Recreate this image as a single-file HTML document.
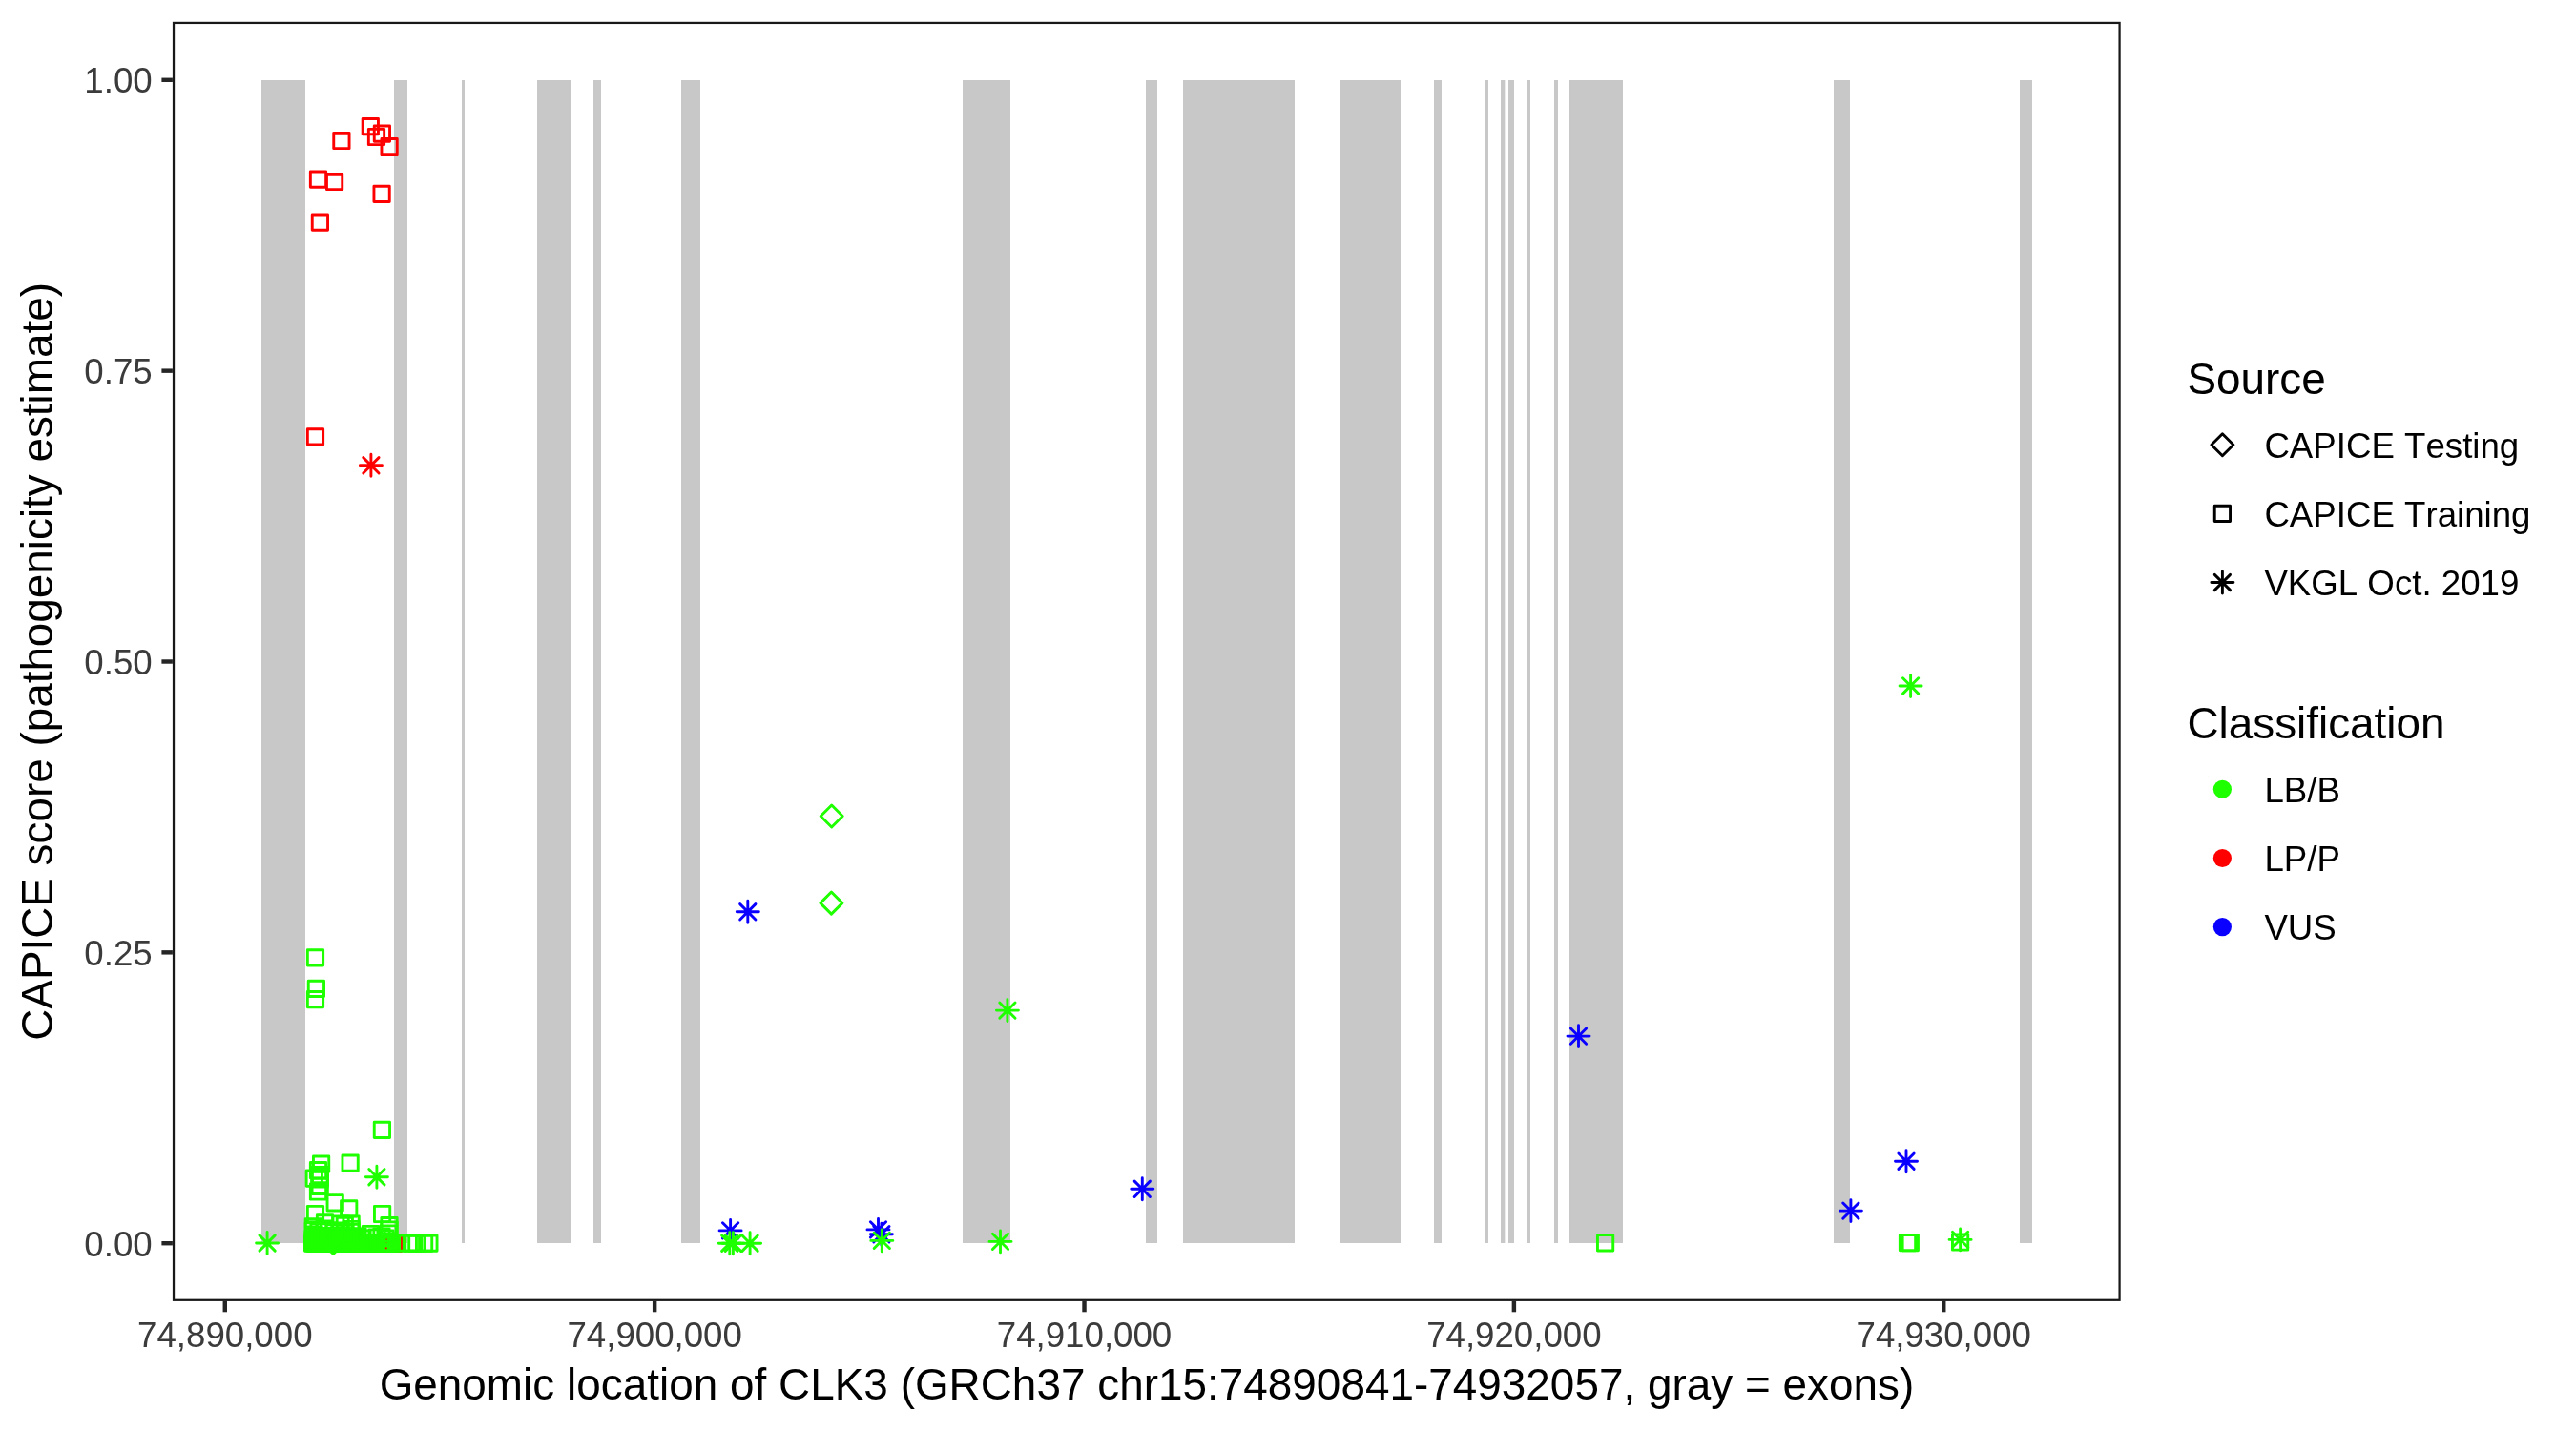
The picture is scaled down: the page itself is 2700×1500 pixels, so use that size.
<!DOCTYPE html>
<html><head><meta charset="utf-8"><title>CAPICE CLK3</title>
<style>
html,body{margin:0;padding:0;background:#fff;}
body{width:2700px;height:1500px;overflow:hidden;}
svg{display:block;will-change:transform;}
text{font-family:"Liberation Sans",sans-serif;font-kerning:none;}
</style></head><body>
<svg width="2700" height="1500" viewBox="0 0 2700 1500">
<rect width="2700" height="1500" fill="#fff"/>
<g fill="#c8c8c8" shape-rendering="crispEdges">
<rect x="274.00" y="84.00" width="46.00" height="1218.80"/>
<rect x="413.10" y="84.00" width="13.80" height="1218.80"/>
<rect x="484.00" y="84.00" width="2.90" height="1218.80"/>
<rect x="563.10" y="84.00" width="35.80" height="1218.80"/>
<rect x="622.10" y="84.00" width="7.80" height="1218.80"/>
<rect x="714.10" y="84.00" width="19.80" height="1218.80"/>
<rect x="1009.00" y="84.00" width="49.90" height="1218.80"/>
<rect x="1201.10" y="84.00" width="11.90" height="1218.80"/>
<rect x="1240.00" y="84.00" width="116.90" height="1218.80"/>
<rect x="1404.90" y="84.00" width="63.00" height="1218.80"/>
<rect x="1503.00" y="84.00" width="7.90" height="1218.80"/>
<rect x="1557.00" y="84.00" width="3.00" height="1218.80"/>
<rect x="1573.00" y="84.00" width="4.10" height="1218.80"/>
<rect x="1581.00" y="84.00" width="6.00" height="1218.80"/>
<rect x="1601.00" y="84.00" width="2.90" height="1218.80"/>
<rect x="1629.00" y="84.00" width="4.00" height="1218.80"/>
<rect x="1645.00" y="84.00" width="56.00" height="1218.80"/>
<rect x="1921.90" y="84.00" width="17.10" height="1218.80"/>
<rect x="2117.00" y="84.00" width="12.90" height="1218.80"/>
<rect x="1577" y="84.0" width="1" height="1218.80" fill="#ebebeb"/>
</g>
<g fill="none" stroke-width="2.9" stroke-linecap="round" stroke-linejoin="round">
<rect x="349.75" y="139.35" width="16.30" height="16.30" stroke="#ff0000"/>
<rect x="380.15" y="124.45" width="16.30" height="16.30" stroke="#ff0000"/>
<rect x="392.25" y="131.95" width="16.30" height="16.30" stroke="#ff0000"/>
<rect x="386.35" y="135.35" width="16.30" height="16.30" stroke="#ff0000"/>
<rect x="399.95" y="145.45" width="16.30" height="16.30" stroke="#ff0000"/>
<rect x="325.35" y="179.95" width="16.30" height="16.30" stroke="#ff0000"/>
<rect x="342.45" y="182.35" width="16.30" height="16.30" stroke="#ff0000"/>
<rect x="391.95" y="195.25" width="16.30" height="16.30" stroke="#ff0000"/>
<rect x="327.25" y="224.95" width="16.30" height="16.30" stroke="#ff0000"/>
<rect x="322.35" y="449.75" width="16.30" height="16.30" stroke="#ff0000"/>
<rect x="404.55" y="1295.20" width="16.30" height="16.30" stroke="#ff0000"/>
<rect x="328.25" y="1294.95" width="16.30" height="16.30" stroke="#ff0000"/>
<path d="M380.75 479.65L397.05 495.95M380.75 495.95L397.05 479.65M377.38 487.80L400.42 487.80M388.90 476.28L388.90 499.32" stroke="#ff0000"/>
<rect x="322.35" y="995.75" width="16.30" height="16.30" stroke="#1eff00"/>
<rect x="323.25" y="1028.25" width="16.30" height="16.30" stroke="#1eff00"/>
<rect x="322.35" y="1039.45" width="16.30" height="16.30" stroke="#1eff00"/>
<rect x="392.25" y="1176.25" width="16.30" height="16.30" stroke="#1eff00"/>
<rect x="358.95" y="1210.95" width="16.30" height="16.30" stroke="#1eff00"/>
<rect x="328.45" y="1212.05" width="16.30" height="16.30" stroke="#1eff00"/>
<rect x="325.35" y="1218.55" width="16.30" height="16.30" stroke="#1eff00"/>
<rect x="321.15" y="1227.05" width="16.30" height="16.30" stroke="#1eff00"/>
<rect x="327.05" y="1223.45" width="16.30" height="16.30" stroke="#1eff00"/>
<rect x="327.05" y="1225.85" width="16.30" height="16.30" stroke="#1eff00"/>
<rect x="327.05" y="1227.85" width="16.30" height="16.30" stroke="#1eff00"/>
<rect x="327.05" y="1235.25" width="16.30" height="16.30" stroke="#1eff00"/>
<rect x="325.35" y="1240.85" width="16.30" height="16.30" stroke="#1eff00"/>
<rect x="343.05" y="1252.65" width="16.30" height="16.30" stroke="#1eff00"/>
<rect x="357.55" y="1258.75" width="16.30" height="16.30" stroke="#1eff00"/>
<rect x="322.35" y="1264.35" width="16.30" height="16.30" stroke="#1eff00"/>
<rect x="392.45" y="1264.35" width="16.30" height="16.30" stroke="#1eff00"/>
<rect x="399.85" y="1276.55" width="16.30" height="16.30" stroke="#1eff00"/>
<rect x="332.35" y="1273.75" width="16.30" height="16.30" stroke="#1eff00"/>
<rect x="348.95" y="1274.85" width="16.30" height="16.30" stroke="#1eff00"/>
<rect x="353.15" y="1276.35" width="16.30" height="16.30" stroke="#1eff00"/>
<rect x="359.95" y="1274.85" width="16.30" height="16.30" stroke="#1eff00"/>
<rect x="359.95" y="1280.35" width="16.30" height="16.30" stroke="#1eff00"/>
<rect x="359.95" y="1283.35" width="16.30" height="16.30" stroke="#1eff00"/>
<rect x="380.25" y="1285.35" width="16.30" height="16.30" stroke="#1eff00"/>
<rect x="320.15" y="1277.65" width="16.30" height="16.30" stroke="#1eff00"/>
<rect x="320.15" y="1281.85" width="16.30" height="16.30" stroke="#1eff00"/>
<rect x="320.85" y="1285.85" width="16.30" height="16.30" stroke="#1eff00"/>
<rect x="399.85" y="1280.85" width="16.30" height="16.30" stroke="#1eff00"/>
<rect x="398.85" y="1284.85" width="16.30" height="16.30" stroke="#1eff00"/>
<rect x="336.85" y="1281.85" width="16.30" height="16.30" stroke="#1eff00"/>
<rect x="341.85" y="1283.85" width="16.30" height="16.30" stroke="#1eff00"/>
<rect x="331.85" y="1279.85" width="16.30" height="16.30" stroke="#1eff00"/>
<rect x="325.85" y="1282.85" width="16.30" height="16.30" stroke="#1eff00"/>
<rect x="347.85" y="1281.85" width="16.30" height="16.30" stroke="#1eff00"/>
<rect x="353.85" y="1284.35" width="16.30" height="16.30" stroke="#1eff00"/>
<rect x="366.85" y="1287.85" width="16.30" height="16.30" stroke="#1eff00"/>
<rect x="371.85" y="1289.85" width="16.30" height="16.30" stroke="#1eff00"/>
<rect x="386.85" y="1288.85" width="16.30" height="16.30" stroke="#1eff00"/>
<rect x="391.85" y="1287.85" width="16.30" height="16.30" stroke="#1eff00"/>
<rect x="395.85" y="1289.85" width="16.30" height="16.30" stroke="#1eff00"/>
<rect x="319.45" y="1294.95" width="16.30" height="16.30" stroke="#1eff00"/>
<rect x="320.90" y="1294.95" width="16.30" height="16.30" stroke="#1eff00"/>
<rect x="322.35" y="1294.95" width="16.30" height="16.30" stroke="#1eff00"/>
<rect x="323.80" y="1294.95" width="16.30" height="16.30" stroke="#1eff00"/>
<rect x="325.25" y="1294.95" width="16.30" height="16.30" stroke="#1eff00"/>
<rect x="326.70" y="1294.95" width="16.30" height="16.30" stroke="#1eff00"/>
<rect x="328.15" y="1294.95" width="16.30" height="16.30" stroke="#1eff00"/>
<rect x="329.60" y="1294.95" width="16.30" height="16.30" stroke="#1eff00"/>
<rect x="331.05" y="1294.95" width="16.30" height="16.30" stroke="#1eff00"/>
<rect x="332.50" y="1294.95" width="16.30" height="16.30" stroke="#1eff00"/>
<rect x="333.95" y="1294.95" width="16.30" height="16.30" stroke="#1eff00"/>
<rect x="335.40" y="1294.95" width="16.30" height="16.30" stroke="#1eff00"/>
<rect x="336.85" y="1294.95" width="16.30" height="16.30" stroke="#1eff00"/>
<rect x="338.30" y="1294.95" width="16.30" height="16.30" stroke="#1eff00"/>
<rect x="339.75" y="1294.95" width="16.30" height="16.30" stroke="#1eff00"/>
<rect x="341.20" y="1294.95" width="16.30" height="16.30" stroke="#1eff00"/>
<rect x="342.65" y="1294.95" width="16.30" height="16.30" stroke="#1eff00"/>
<rect x="344.10" y="1294.95" width="16.30" height="16.30" stroke="#1eff00"/>
<rect x="345.55" y="1294.95" width="16.30" height="16.30" stroke="#1eff00"/>
<rect x="347.00" y="1294.95" width="16.30" height="16.30" stroke="#1eff00"/>
<rect x="348.45" y="1294.95" width="16.30" height="16.30" stroke="#1eff00"/>
<rect x="349.90" y="1294.95" width="16.30" height="16.30" stroke="#1eff00"/>
<rect x="351.35" y="1294.95" width="16.30" height="16.30" stroke="#1eff00"/>
<rect x="352.80" y="1294.95" width="16.30" height="16.30" stroke="#1eff00"/>
<rect x="354.25" y="1294.95" width="16.30" height="16.30" stroke="#1eff00"/>
<rect x="355.70" y="1294.95" width="16.30" height="16.30" stroke="#1eff00"/>
<rect x="357.15" y="1294.95" width="16.30" height="16.30" stroke="#1eff00"/>
<rect x="358.60" y="1294.95" width="16.30" height="16.30" stroke="#1eff00"/>
<rect x="360.05" y="1294.95" width="16.30" height="16.30" stroke="#1eff00"/>
<rect x="361.50" y="1294.95" width="16.30" height="16.30" stroke="#1eff00"/>
<rect x="362.95" y="1294.95" width="16.30" height="16.30" stroke="#1eff00"/>
<rect x="364.40" y="1294.95" width="16.30" height="16.30" stroke="#1eff00"/>
<rect x="365.85" y="1294.95" width="16.30" height="16.30" stroke="#1eff00"/>
<rect x="367.30" y="1294.95" width="16.30" height="16.30" stroke="#1eff00"/>
<rect x="368.75" y="1294.95" width="16.30" height="16.30" stroke="#1eff00"/>
<rect x="370.20" y="1294.95" width="16.30" height="16.30" stroke="#1eff00"/>
<rect x="371.65" y="1294.95" width="16.30" height="16.30" stroke="#1eff00"/>
<rect x="373.10" y="1294.95" width="16.30" height="16.30" stroke="#1eff00"/>
<rect x="377.85" y="1294.95" width="16.30" height="16.30" stroke="#1eff00"/>
<rect x="380.35" y="1294.95" width="16.30" height="16.30" stroke="#1eff00"/>
<rect x="382.85" y="1294.95" width="16.30" height="16.30" stroke="#1eff00"/>
<rect x="385.15" y="1294.95" width="16.30" height="16.30" stroke="#1eff00"/>
<rect x="390.75" y="1294.95" width="16.30" height="16.30" stroke="#1eff00"/>
<rect x="393.20" y="1294.95" width="16.30" height="16.30" stroke="#1eff00"/>
<rect x="395.70" y="1294.95" width="16.30" height="16.30" stroke="#1eff00"/>
<rect x="398.20" y="1294.95" width="16.30" height="16.30" stroke="#1eff00"/>
<rect x="400.35" y="1294.95" width="16.30" height="16.30" stroke="#1eff00"/>
<rect x="402.35" y="1294.95" width="16.30" height="16.30" stroke="#1eff00"/>
<rect x="319.85" y="1290.85" width="16.30" height="16.30" stroke="#1eff00"/>
<rect x="322.15" y="1290.85" width="16.30" height="16.30" stroke="#1eff00"/>
<rect x="324.45" y="1290.85" width="16.30" height="16.30" stroke="#1eff00"/>
<rect x="326.75" y="1290.85" width="16.30" height="16.30" stroke="#1eff00"/>
<rect x="329.05" y="1290.85" width="16.30" height="16.30" stroke="#1eff00"/>
<rect x="331.35" y="1290.85" width="16.30" height="16.30" stroke="#1eff00"/>
<rect x="333.65" y="1290.85" width="16.30" height="16.30" stroke="#1eff00"/>
<rect x="335.95" y="1290.85" width="16.30" height="16.30" stroke="#1eff00"/>
<rect x="338.25" y="1290.85" width="16.30" height="16.30" stroke="#1eff00"/>
<rect x="340.55" y="1290.85" width="16.30" height="16.30" stroke="#1eff00"/>
<rect x="342.85" y="1290.85" width="16.30" height="16.30" stroke="#1eff00"/>
<rect x="345.15" y="1290.85" width="16.30" height="16.30" stroke="#1eff00"/>
<rect x="347.45" y="1290.85" width="16.30" height="16.30" stroke="#1eff00"/>
<rect x="349.75" y="1290.85" width="16.30" height="16.30" stroke="#1eff00"/>
<rect x="352.05" y="1290.85" width="16.30" height="16.30" stroke="#1eff00"/>
<rect x="354.35" y="1290.85" width="16.30" height="16.30" stroke="#1eff00"/>
<rect x="356.65" y="1290.85" width="16.30" height="16.30" stroke="#1eff00"/>
<rect x="358.95" y="1290.85" width="16.30" height="16.30" stroke="#1eff00"/>
<rect x="361.25" y="1290.85" width="16.30" height="16.30" stroke="#1eff00"/>
<rect x="363.55" y="1290.85" width="16.30" height="16.30" stroke="#1eff00"/>
<rect x="320.85" y="1287.85" width="16.30" height="16.30" stroke="#1eff00"/>
<rect x="323.95" y="1287.85" width="16.30" height="16.30" stroke="#1eff00"/>
<rect x="327.05" y="1287.85" width="16.30" height="16.30" stroke="#1eff00"/>
<rect x="330.15" y="1287.85" width="16.30" height="16.30" stroke="#1eff00"/>
<rect x="333.25" y="1287.85" width="16.30" height="16.30" stroke="#1eff00"/>
<rect x="336.35" y="1287.85" width="16.30" height="16.30" stroke="#1eff00"/>
<rect x="339.45" y="1287.85" width="16.30" height="16.30" stroke="#1eff00"/>
<rect x="342.55" y="1287.85" width="16.30" height="16.30" stroke="#1eff00"/>
<rect x="345.65" y="1287.85" width="16.30" height="16.30" stroke="#1eff00"/>
<rect x="348.75" y="1287.85" width="16.30" height="16.30" stroke="#1eff00"/>
<rect x="351.85" y="1287.85" width="16.30" height="16.30" stroke="#1eff00"/>
<rect x="354.95" y="1287.85" width="16.30" height="16.30" stroke="#1eff00"/>
<rect x="358.05" y="1287.85" width="16.30" height="16.30" stroke="#1eff00"/>
<rect x="408.55" y="1294.95" width="16.30" height="16.30" stroke="#1eff00"/>
<rect x="423.25" y="1294.95" width="16.30" height="16.30" stroke="#1eff00"/>
<rect x="424.05" y="1294.95" width="16.30" height="16.30" stroke="#1eff00"/>
<rect x="428.70" y="1294.95" width="16.30" height="16.30" stroke="#1eff00"/>
<rect x="436.45" y="1294.95" width="16.30" height="16.30" stroke="#1eff00"/>
<rect x="441.75" y="1294.95" width="16.30" height="16.30" stroke="#1eff00"/>
<path d="M337.78 1302.90L349.30 1291.38L360.82 1302.90L349.30 1314.42Z" stroke="#1eff00"/>
<path d="M386.75 1225.55L403.05 1241.85M386.75 1241.85L403.05 1225.55M383.38 1233.70L406.42 1233.70M394.90 1222.18L394.90 1245.22" stroke="#1eff00"/>
<path d="M271.95 1294.85L288.25 1311.15M271.95 1311.15L288.25 1294.85M268.58 1303.00L291.62 1303.00M280.10 1291.48L280.10 1314.52" stroke="#1eff00"/>
<path d="M860.18 855.50L871.70 843.98L883.22 855.50L871.70 867.02Z" stroke="#1eff00"/>
<path d="M859.88 946.60L871.40 935.08L882.92 946.60L871.40 958.12Z" stroke="#1eff00"/>
<path d="M775.65 947.65L791.95 963.95M775.65 963.95L791.95 947.65M772.28 955.80L795.32 955.80M783.80 944.28L783.80 967.32" stroke="#0a00ff"/>
<path d="M757.45 1281.75L773.75 1298.05M757.45 1298.05L773.75 1281.75M754.08 1289.90L777.12 1289.90M765.60 1278.38L765.60 1301.42" stroke="#0a00ff"/>
<path d="M912.35 1280.75L928.65 1297.05M912.35 1297.05L928.65 1280.75M908.98 1288.90L932.02 1288.90M920.50 1277.38L920.50 1300.42" stroke="#0a00ff"/>
<path d="M915.75 1285.55L932.05 1301.85M915.75 1301.85L932.05 1285.55M912.38 1293.70L935.42 1293.70M923.90 1282.18L923.90 1305.22" stroke="#0a00ff"/>
<path d="M756.65 1295.05L772.95 1311.35M756.65 1311.35L772.95 1295.05M753.28 1303.20L776.32 1303.20M764.80 1291.68L764.80 1314.72" stroke="#1eff00"/>
<path d="M760.25 1295.05L776.55 1311.35M760.25 1311.35L776.55 1295.05M756.88 1303.20L779.92 1303.20M768.40 1291.68L768.40 1314.72" stroke="#1eff00"/>
<path d="M777.95 1295.05L794.25 1311.35M777.95 1311.35L794.25 1295.05M774.58 1303.20L797.62 1303.20M786.10 1291.68L786.10 1314.72" stroke="#1eff00"/>
<path d="M916.15 1292.25L932.45 1308.55M916.15 1308.55L932.45 1292.25M912.78 1300.40L935.82 1300.40M924.30 1288.88L924.30 1311.92" stroke="#1eff00"/>
<path d="M1047.75 1050.95L1064.05 1067.25M1047.75 1067.25L1064.05 1050.95M1044.38 1059.10L1067.42 1059.10M1055.90 1047.58L1055.90 1070.62" stroke="#1eff00"/>
<path d="M1040.35 1293.25L1056.65 1309.55M1040.35 1309.55L1056.65 1293.25M1036.98 1301.40L1060.02 1301.40M1048.50 1289.88L1048.50 1312.92" stroke="#1eff00"/>
<path d="M1189.15 1238.15L1205.45 1254.45M1189.15 1254.45L1205.45 1238.15M1185.78 1246.30L1208.82 1246.30M1197.30 1234.78L1197.30 1257.82" stroke="#0a00ff"/>
<path d="M1646.35 1077.95L1662.65 1094.25M1646.35 1094.25L1662.65 1077.95M1642.98 1086.10L1666.02 1086.10M1654.50 1074.58L1654.50 1097.62" stroke="#0a00ff"/>
<rect x="1674.45" y="1294.65" width="16.30" height="16.30" stroke="#1eff00"/>
<path d="M1989.85 1209.05L2006.15 1225.35M1989.85 1225.35L2006.15 1209.05M1986.48 1217.20L2009.52 1217.20M1998.00 1205.68L1998.00 1228.72" stroke="#0a00ff"/>
<path d="M1931.75 1260.95L1948.05 1277.25M1931.75 1277.25L1948.05 1260.95M1928.38 1269.10L1951.42 1269.10M1939.90 1257.58L1939.90 1280.62" stroke="#0a00ff"/>
<rect x="1991.35" y="1294.55" width="16.30" height="16.30" stroke="#1eff00"/>
<rect x="1994.15" y="1294.55" width="16.30" height="16.30" stroke="#1eff00"/>
<rect x="2046.45" y="1293.85" width="16.30" height="16.30" stroke="#1eff00"/>
<path d="M2046.45 1291.25L2062.75 1307.55M2046.45 1307.55L2062.75 1291.25M2043.08 1299.40L2066.12 1299.40M2054.60 1287.88L2054.60 1310.92" stroke="#1eff00"/>
<path d="M1994.45 710.80L2010.75 727.10M1994.45 727.10L2010.75 710.80M1991.08 718.95L2014.12 718.95M2002.60 707.43L2002.60 730.47" stroke="#1eff00"/>
</g>
<rect x="182.03" y="23.93" width="2039.55" height="1338.85" fill="none" stroke="#181818" stroke-width="2.25"/>
<g stroke="#252525" stroke-width="4.45">
<line x1="169.4" y1="83.80" x2="180.90" y2="83.80"/>
<line x1="169.4" y1="388.65" x2="180.90" y2="388.65"/>
<line x1="169.4" y1="693.50" x2="180.90" y2="693.50"/>
<line x1="169.4" y1="998.35" x2="180.90" y2="998.35"/>
<line x1="169.4" y1="1303.20" x2="180.90" y2="1303.20"/>
<line x1="235.80" y1="1363.90" x2="235.80" y2="1375.3"/>
<line x1="686.16" y1="1363.90" x2="686.16" y2="1375.3"/>
<line x1="1136.52" y1="1363.90" x2="1136.52" y2="1375.3"/>
<line x1="1586.88" y1="1363.90" x2="1586.88" y2="1375.3"/>
<line x1="2037.24" y1="1363.90" x2="2037.24" y2="1375.3"/>
</g>
<g font-size="36.67" fill="#3b3b3b">
<text x="159.7" y="97" text-anchor="end">1.00</text>
<text x="159.7" y="402" text-anchor="end">0.75</text>
<text x="159.7" y="707" text-anchor="end">0.50</text>
<text x="159.7" y="1012" text-anchor="end">0.25</text>
<text x="159.7" y="1317" text-anchor="end">0.00</text>
<text x="235.80" y="1412.4" text-anchor="middle">74,890,000</text>
<text x="686.16" y="1412.4" text-anchor="middle">74,900,000</text>
<text x="1136.52" y="1412.4" text-anchor="middle">74,910,000</text>
<text x="1586.88" y="1412.4" text-anchor="middle">74,920,000</text>
<text x="2037.24" y="1412.4" text-anchor="middle">74,930,000</text>
</g>
<g font-size="45.83" fill="#000">
<text x="1202" y="1467" text-anchor="middle" letter-spacing="0.035">Genomic location of CLK3 (GRCh37 chr15:74890841-74932057, gray = exons)</text>
<text transform="translate(55,693.4) rotate(-90)" text-anchor="middle">CAPICE score (pathogenicity estimate)</text>
<text x="2292.5" y="413">Source</text>
<text x="2292.5" y="774">Classification</text>
</g>
<g fill="none" stroke="#000" stroke-width="2.9" stroke-linecap="round" stroke-linejoin="round">
<path d="M2317.88 466.3L2329.40 454.78L2340.92 466.3L2329.40 477.82Z"/>
<rect x="2321.25" y="530.25" width="16.30" height="16.30"/>
<path d="M2321.25 602.35L2337.55 618.65M2321.25 618.65L2337.55 602.35M2317.88 610.5L2340.92 610.5M2329.40 598.98L2329.40 622.02"/>
</g>
<circle cx="2329.4" cy="827.3" r="9.6" fill="#1eff00"/>
<circle cx="2329.4" cy="899.5" r="9.6" fill="#ff0000"/>
<circle cx="2329.4" cy="971.6" r="9.6" fill="#0a00ff"/>
<g font-size="36.67" fill="#000">
<text x="2373.4" y="480">CAPICE Testing</text>
<text x="2373.4" y="552">CAPICE Training</text>
<text x="2373.4" y="624">VKGL Oct. 2019</text>
<text x="2373.4" y="841">LB/B</text>
<text x="2373.4" y="913">LP/P</text>
<text x="2373.4" y="985">VUS</text>
</g>
</svg>
</body></html>
